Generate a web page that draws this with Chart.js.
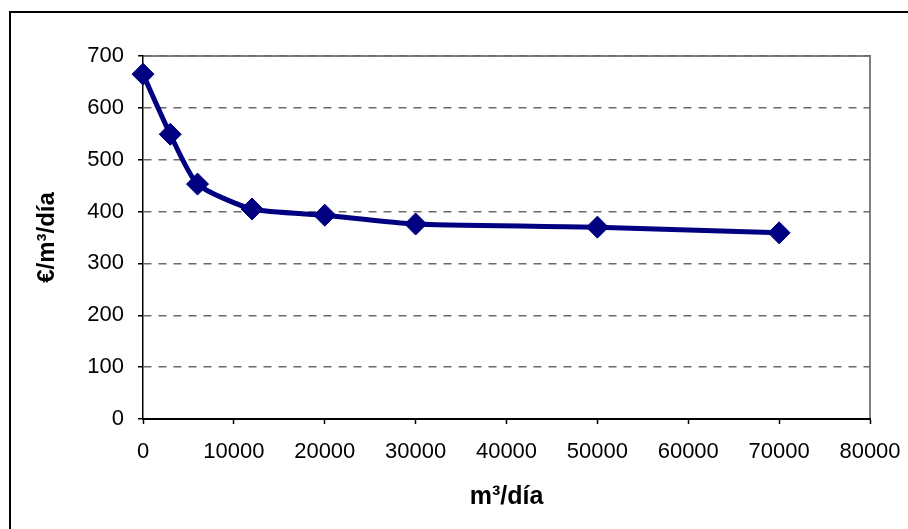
<!DOCTYPE html>
<html>
<head>
<meta charset="utf-8">
<script src="https://cdn.jsdelivr.net/npm/chart.js@4"></script>
<style>
  html, body { margin: 0; padding: 0; background: #fff; }
  canvas { display: block; }
</style>
</head>
<body>
<canvas id="c" width="908" height="529"></canvas>
<script>
// Plant capacity (m³/día) and unit investment cost (€/m³/día)
const capacity = [0, 3000, 6000, 12000, 20000, 30000, 50000, 70000];
const unitCost = [665, 549, 453, 405, 393, 376, 370, 359];

const xTicks = [0, 10000, 20000, 30000, 40000, 50000, 60000, 70000, 80000];
const yTicks = [0, 100, 200, 300, 400, 500, 600, 700];

const xTitle = 'm³/día';
const yTitle = '€/m³/día';

const FONT = "'Liberation Sans', Arial, sans-serif";

// Frame around the figure and grey outline of the plot area
const framePlugin = {
  id: 'frame',
  beforeDraw(chart) {
    const { ctx, chartArea: a } = chart;
    ctx.save();
    ctx.fillStyle = '#fff';
    ctx.fillRect(0, 0, chart.width, chart.height);
    ctx.strokeStyle = '#808080';
    ctx.lineWidth = 2;
    ctx.beginPath();
    ctx.moveTo(a.left, a.top);
    ctx.lineTo(a.right, a.top);
    ctx.lineTo(a.right, a.bottom);
    ctx.stroke();
    ctx.restore();
  },
  afterDraw(chart) {
    const { ctx } = chart;
    ctx.save();
    ctx.strokeStyle = '#000';
    ctx.lineWidth = 2;
    ctx.strokeRect(10, 12, 2000, 2000);
    ctx.restore();
  }
};

new Chart(document.getElementById('c'), {
  type: 'line',
  data: {
    datasets: [{
      data: capacity.map((x, i) => ({ x, y: unitCost[i] })),
      borderColor: '#000080',
      backgroundColor: '#000080',
      borderWidth: 5,
      tension: 0.2,
      pointStyle: 'rectRot',
      pointRadius: 11,
      pointBorderWidth: 1,
      pointBorderColor: '#000080',
      pointBackgroundColor: '#000080',
      clip: false
    }]
  },
  options: {
    responsive: false,
    animation: false,
    events: [],
    layout: { padding: { left: 0, right: 38, top: 56, bottom: 0 } },
    plugins: {
      legend: { display: false },
      title: { display: false },
      tooltip: { enabled: false }
    },
    scales: {
      x: {
        type: 'linear',
        min: 0,
        max: 80000,
        afterFit(scale) {
          scale.height = 110;
          scale.paddingLeft = 0;
          scale.paddingRight = 0;
        },
        afterBuildTicks(scale) { scale.ticks = xTicks.map(v => ({ value: v })); },
        ticks: {
          autoSkip: false,
          maxRotation: 0,
          padding: 15,
          color: '#000',
          font: { family: FONT, size: 22 },
          callback: v => String(v)
        },
        grid: {
          drawOnChartArea: false,
          drawTicks: true,
          tickLength: 5,
          tickColor: '#000',
          tickWidth: 1.5
        },
        border: { display: true, color: '#000', width: 2 },
        title: {
          display: true,
          text: xTitle,
          color: '#000',
          font: { family: FONT, size: 25, weight: 'bold' },
          padding: { top: 4, bottom: 17 }
        }
      },
      y: {
        type: 'linear',
        min: 0,
        max: 700,
        afterFit(scale) {
          scale.width = 143;
          scale.paddingTop = 0;
          scale.paddingBottom = 0;
        },
        afterBuildTicks(scale) { scale.ticks = yTicks.map(v => ({ value: v })); },
        ticks: {
          autoSkip: false,
          padding: 14,
          color: '#000',
          font: { family: FONT, size: 22 },
          callback: v => String(v)
        },
        grid: {
          color: c => (c.tick && c.tick.value === 0) ? 'rgba(0,0,0,0)' : '#6a6a6a',
          lineWidth: 1.5,
          drawTicks: true,
          tickLength: 5,
          tickColor: '#000',
          tickWidth: 1.5,
          tickBorderDash: []
        },
        border: { display: true, color: '#000', width: 1.5, dash: [8, 7] },
        title: {
          display: true,
          text: yTitle,
          color: '#000',
          font: { family: FONT, size: 24, weight: 'bold' },
          padding: { top: 33, bottom: 4 }
        }
      }
    }
  },
  plugins: [framePlugin]
});
</script>
</body>
</html>
